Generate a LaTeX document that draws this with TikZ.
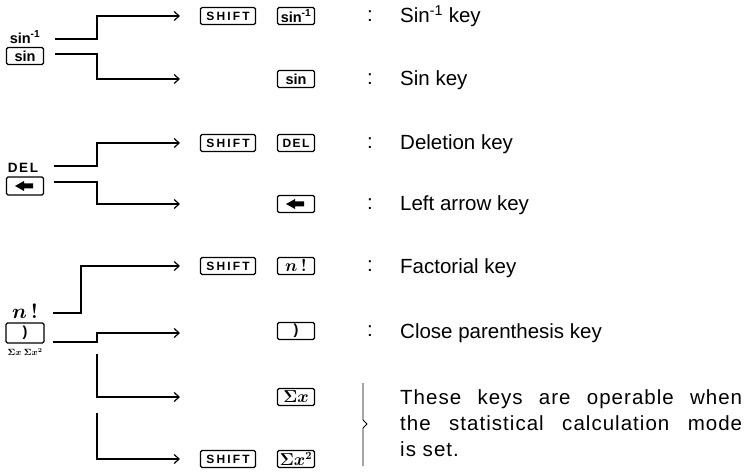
\documentclass[tikz,border=0pt]{standalone}
\usepackage{fontspec}
\setmainfont{Liberation Sans}
\usepackage{amsmath,amssymb}
\usetikzlibrary{arrows.meta}

\tikzset{
  keybox/.style={draw, line width=1.1pt, rounded corners=1.5pt, minimum width=37pt,
    minimum height=17pt, inner sep=0pt, font=\fontsize{14.5}{14.5}\selectfont\bfseries},
  shiftkey/.style={keybox, minimum width=55pt,
    font=\fontsize{12}{12}\selectfont\bfseries\addfontfeatures{LetterSpace=18}},
  lbl/.style={inner sep=0pt, font=\fontsize{14.5}{14.5}\selectfont\bfseries},
  conn/.style={line width=1.3pt},
  arr/.style={conn, -{Straight Barb[length=5pt,width=9pt,line width=1.2pt]}},
  desc/.style={anchor=base west, inner sep=0pt, font=\fontsize{20.5}{26}\selectfont},
  note/.style={desc, font=\fontsize{20.5}{26}\selectfont\addfontfeatures{LetterSpace=5}},
  colon/.style={inner sep=0pt, font=\fontsize{20.5}{26}\selectfont},
}
\newcommand{\rparkey}{)}

\begin{document}
\begin{tikzpicture}[x=1pt,y=1pt]
  \useasboundingbox (0,0) rectangle (748,-476);

  % sin key
  \node[lbl] (sininv) at (25,-37) {sin\textsuperscript{-1}};
  \node[keybox] (sinkey) at (25,-56) {sin};
  \coordinate (s1) at (55,-39);
  \coordinate (s2) at (55,-54);
  \coordinate (e1) at (180,-16);
  \coordinate (e2) at (180,-79);
  \draw[arr] (s1) -- ++(42,0) |- (e1);
  \draw[arr] (s2) -- ++(42,0) |- (e2);
  \node[shiftkey] (shift1) at (228,-16) {SHIFT};
  \node[keybox] (ksininv) at (296,-16) {sin\textsuperscript{-1}};
  \node[keybox] (ksin) at (296,-79) {sin};

  % DEL / left arrow key
  \node[lbl, font=\fontsize{13.5}{13.5}\selectfont\bfseries\addfontfeatures{LetterSpace=12}] (del) at (23,-168) {DEL};
  \node[keybox, minimum height=18pt] (lakey) at (25,-186) {};
  \coordinate (s3) at (54,-166);
  \coordinate (s4) at (54,-182);
  \coordinate (e3) at (180,-143);
  \coordinate (e4) at (180,-204);
  \draw[arr] (s3) -- ++(43,0) |- (e3);
  \draw[arr] (s4) -- ++(43,0) |- (e4);
  \node[shiftkey] (shift2) at (228,-143) {SHIFT};
  \node[keybox, font=\fontsize{12}{12}\selectfont\bfseries\addfontfeatures{LetterSpace=12}] (kdel) at (296,-143) {DEL};
  \node[keybox] (kla) at (296,-204) {};
  \foreach \k in {lakey,kla}
    \fill ([xshift=-10pt]\k.center) -- ++(9,5) -- ++(0,-2.5) -- ++(9,0) -- ++(0,-5) -- ++(-9,0) -- ++(0,-2.5) -- cycle;

  % n! / close parenthesis key
  \node[inner sep=0pt, font=\fontsize{21}{21}\selectfont] (fact) at (25,-311) {$\boldsymbol{n\,!}$};
  \node[keybox, minimum width=38pt, minimum height=20pt] (cpkey) at (25,-333) {\rparkey};
  \node[inner sep=0pt, font=\fontsize{9}{9}\selectfont] (sig) at (25,-352) {$\boldsymbol{\Sigma x}\;\boldsymbol{\Sigma x^2}$};
  \coordinate (s5) at (53,-313);
  \coordinate (s6) at (53,-342);
  \coordinate (b1) at (97,-354);
  \coordinate (b2) at (97,-413);
  \coordinate (e5) at (180,-266);
  \coordinate (e6) at (180,-333);
  \coordinate (e7) at (180,-397);
  \coordinate (e8) at (180,-459);
  \draw[arr] (s5) -- ++(28,0) |- (e5);
  \draw[arr] (s6) -- ++(44,0) |- (e6);
  \draw[arr] (b1) |- (e7);
  \draw[arr] (b2) |- (e8);
  \node[shiftkey] (shift3) at (228,-266) {SHIFT};
  \node[keybox, font=\fontsize{16}{16}\selectfont] (kfact) at (296,-266) {$\boldsymbol{n\,!}$};
  \node[keybox] (kcp) at (296,-331) {\rparkey};
  \node[keybox, font=\fontsize{16}{16}\selectfont] (ksx) at (296,-397) {$\boldsymbol{\Sigma x}$};
  \node[shiftkey] (shift4) at (228,-459) {SHIFT};
  \node[keybox, font=\fontsize{16}{16}\selectfont] (ksx2) at (296,-459) {$\boldsymbol{\Sigma x^2}$};

  % colons
  \foreach \y in {16,79,143,204,266,331}
    \node[colon] at (370,-\y) {:};

  % descriptions
  \node[desc] (d1) at (400,-23) {Sin\textsuperscript{-1} key};
  \node[desc] (d2) at (400,-86) {Sin key};
  \node[desc] (d3) at (400,-150) {Deletion key};
  \node[desc] (d4) at (400,-211) {Left arrow key};
  \node[desc] (d5) at (400,-273) {Factorial key};
  \node[desc] (d6) at (400,-338) {Close parenthesis key};

  % brace and note
  \draw[line width=0.9pt] (363,-383) -- (363,-420) -- (367,-424) -- (363,-428) -- (363,-466);
  \node[note] (n1) at (400,-404) {\makebox[342pt][s]{These keys are operable when}};
  \node[note] (n2) at (400,-430) {\makebox[342pt][s]{the statistical calculation mode}};
  \node[note] (n3) at (400,-456) {is set.};
\end{tikzpicture}
\end{document}
